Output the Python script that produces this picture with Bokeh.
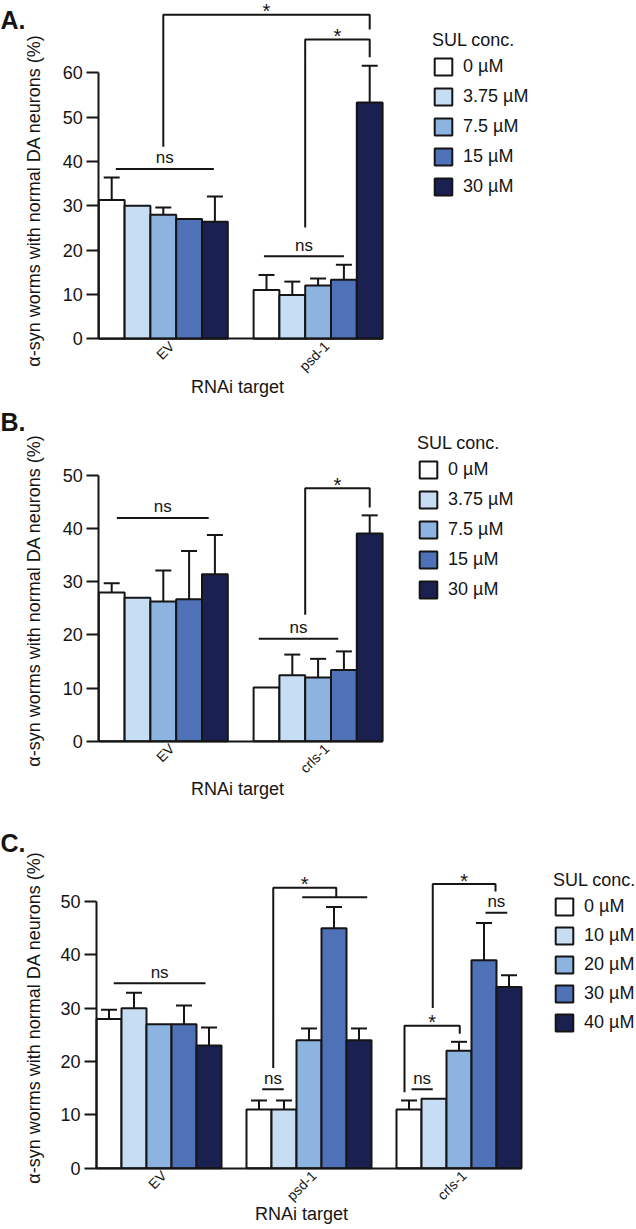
import math
from bokeh.plotting import figure
from bokeh.models import (ColumnDataSource, Range1d, FixedTicker, Legend, LegendItem,
                          Whisker, TeeHead)
from bokeh.layouts import column
from bokeh.embed import file_html
from bokeh.resources import INLINE
from bokeh.core.properties import value

FONT = "Liberation Sans"
INK = "#151515"
COLORS = ["#ffffff", "#c6ddf3", "#8db3e0", "#4e71b8", "#1a2150"]
BASE_FIX = 0.42   # measured baseline correction of the svg text, in em

# ---------------- data ----------------
A_targets = ["EV", "psd-1"]
A_conc = ["0 µM", "3.75 µM", "7.5 µM", "15 µM", "30 µM"]
A_mean = [[31.3, 30.0, 28.0, 27.0, 26.4],
          [11.0, 9.9, 12.0, 13.3, 53.3]]
A_sem = [[5.1, 0.0, 1.6, 0.0, 5.7],
         [3.4, 3.0, 1.6, 3.4, 8.3]]

B_targets = ["EV", "crls-1"]
B_conc = ["0 µM", "3.75 µM", "7.5 µM", "15 µM", "30 µM"]
B_mean = [[28.0, 27.0, 26.3, 26.7, 31.4],
          [10.1, 12.4, 12.0, 13.4, 39.1]]
B_sem = [[1.7, 0.0, 5.8, 9.1, 7.4],
         [0.0, 3.9, 3.5, 3.5, 3.4]]

C_targets = ["EV", "psd-1", "crls-1"]
C_conc = ["0 µM", "10 µM", "20 µM", "30 µM", "40 µM"]
C_mean = [[28.0, 30.0, 27.0, 27.0, 23.0],
          [11.0, 11.0, 24.0, 45.0, 24.0],
          [11.0, 13.0, 22.0, 39.0, 34.0]]
C_sem = [[1.7, 2.9, 0.0, 3.5, 3.4],
         [1.7, 1.7, 2.2, 4.0, 2.2],
         [1.7, 0.0, 1.7, 7.0, 2.2]]

# significance marks: ns lines (x0, x1, y); brackets (xl, yl, xr, yr, ytop) labelled "*"
A_ns = [(0.66, 4.46, 38.3), (6.4, 9.5, 18.6)]
A_star = [(2.5, 43.3, 10.5, 69.8, 73.1), (8.0, 25.1, 10.5, 63.5, 67.5)]
A_plain = []
B_ns = [(0.7, 4.26, 42.0), (6.2, 9.28, 19.3)]
B_star = [(8.0, 23.8, 10.5, 44.0, 47.6)]
B_plain = []
C_ns = [(0.69, 4.36, 34.7), (6.63, 7.49, 14.8), (12.6, 13.45, 14.8), (15.56, 16.43, 47.9)]
C_star = [(7.07, 18.8, 9.59, 50.8, 52.6), (12.32, 14.25, 14.53, 25.2, 26.7),
          (13.45, 30.06, 15.96, 51.9, 53.3)]
C_plain = [(8.23, 10.83, 50.8)]

YLABEL = "α-syn worms with normal DA neurons (%)"
XLABEL = "RNAi target"
LEGEND_TITLE = "SUL conc."


def panel(letter, targets, conc, means, sems, ns_lines, stars, plain, ymax, cfg):
    n = len(conc)
    gap = 1
    W, H = 636, cfg["h"]
    ax_x, y0 = cfg["axis_x"], cfg["y0"]          # pixel position of the axes corner
    u, ppv = cfg["unit"], cfg["ppv"]             # px per bar, px per percent
    p = figure(frame_width=W, frame_height=H,
               min_border_left=0, min_border_right=0, min_border_top=0, min_border_bottom=0,
               x_range=Range1d(-ax_x / u, (W - ax_x) / u),
               y_range=Range1d(-(H - y0) / ppv, y0 / ppv),
               output_backend="svg", toolbar_location=None,
               background_fill_color="white", border_fill_color="white")
    p.outline_line_color = None
    p.xgrid.visible = False
    p.ygrid.visible = False

    items = []
    for i in range(n):
        xs = [g * (n + gap) + i + 0.5 for g in range(len(targets))]
        tops = [means[g][i] for g in range(len(targets))]
        r = p.vbar(x=xs, top=tops, bottom=0, width=1, fill_color=COLORS[i],
                   line_color=INK, line_width=2)
        items.append(LegendItem(label=conc[i], renderers=[r]))

    base, lower, upper = [], [], []
    for g in range(len(targets)):
        for i in range(n):
            if sems[g][i] > 0:
                base.append(g * (n + gap) + i + 0.5)
                lower.append(means[g][i])
                upper.append(means[g][i] + sems[g][i])
    wsrc = ColumnDataSource(dict(base=base, lower=lower, upper=upper))
    p.add_layout(Whisker(source=wsrc, base="base", lower="lower", upper="upper",
                         dimension="height", line_color=INK, line_width=2,
                         upper_head=TeeHead(size=16, line_color=INK, line_width=2),
                         lower_head=None, level="glyph"))

    # significance lines
    lx, ly = [], []
    for x0, x1, y in ns_lines + plain:
        lx.append([x0, x1]); ly.append([y, y])
    for xl, yl, xr, yr, yt in stars:
        lx.append([xl, xl, xr, xr]); ly.append([yl, yt, yt, yr])
    p.multi_line(xs=lx, ys=ly, line_color=INK, line_width=2)
    p.text(x=[(a + b) / 2 for a, b, _ in ns_lines], y=[y for _, _, y in ns_lines],
           text=["ns"] * len(ns_lines), text_font=value(FONT), text_font_size="17px",
           text_align="center", text_baseline="alphabetic",
           y_offset=-4 - BASE_FIX * 17, text_color=INK)
    p.text(x=[(s[0] + s[2]) / 2 for s in stars], y=[s[4] for s in stars],
           text=["*"] * len(stars), text_font=value(FONT), text_font_size="20px",
           text_align="center", text_baseline="alphabetic",
           y_offset=5 - BASE_FIX * 20, text_color=INK)

    # axes (library axes pinned at the data origin)
    ya = p.yaxis[0]
    xa = p.xaxis[0]
    ya.fixed_location = 0
    xa.fixed_location = 0
    ya.ticker = FixedTicker(ticks=list(range(0, ymax + 1, 10)))
    ya.bounds = (0, ymax)
    for ax in (xa, ya):
        ax.axis_line_color = INK
        ax.axis_line_width = 2
        ax.major_tick_line_color = INK
        ax.major_tick_line_width = 2
        ax.minor_tick_line_color = None
        ax.major_tick_in = 0
        ax.major_label_text_font = FONT
        ax.major_label_text_color = INK
    ya.major_tick_out = 12
    ya.major_label_standoff = 4
    ya.major_label_text_font_size = "18px"

    centers = [g * (n + gap) + n / 2 + cfg["tick_shift"] for g in range(len(targets))]
    xa.ticker = FixedTicker(ticks=centers)
    xa.major_label_overrides = {c: t for c, t in zip(centers, targets)}
    xa.major_label_orientation = math.pi / 4
    xa.major_label_text_font_size = "14px"
    xa.major_tick_line_color = None
    xa.major_tick_out = 0
    xa.major_label_standoff = 5
    xa.bounds = (0, len(targets) * (n + gap) - gap)

    # axis titles and panel letter
    ylx, yly = cfg["ylabel_xy"]
    p.text(x=[(ylx - ax_x) / u], y=[(y0 - yly) / ppv], text=[YLABEL], angle=math.pi / 2,
           text_font=value(FONT), text_font_size="18px", text_align="center",
           text_baseline="middle", text_color=INK)
    xlx, xly = cfg["xlabel_xy"]
    p.text(x=[(xlx - ax_x) / u], y=[(y0 - xly) / ppv], text=[XLABEL],
           text_font=value(FONT), text_font_size="18px", text_align="center",
           text_baseline="alphabetic", y_offset=-BASE_FIX * 18, text_color=INK)
    lt_x, lt_y = cfg["letter_xy"]
    p.text(x=[(lt_x - ax_x) / u], y=[(y0 - lt_y) / ppv], text=[letter],
           text_font=value(FONT), text_font_size="25px", text_font_style="bold",
           text_align="left", text_baseline="alphabetic", y_offset=-BASE_FIX * 25,
           text_color=INK)

    leg = Legend(items=items, location=cfg["legend_xy"], title=LEGEND_TITLE,
                 title_text_font=FONT, title_text_font_size="18px",
                 title_text_font_style="normal", title_text_color=INK, title_standoff=5,
                 label_text_font=FONT, label_text_font_size="18px", label_text_color=INK,
                 glyph_width=22, glyph_height=21, label_height=21,
                 spacing=cfg["legend_spacing"], padding=0, margin=0, label_standoff=9,
                 border_line_color=None, background_fill_alpha=0)
    p.add_layout(leg)
    return p


cfgA = dict(h=400, axis_x=98.3, y0=338.3, unit=25.8, ppv=4.433, tick_shift=0.33,
            ylabel_xy=(33, 200), xlabel_xy=(237, 394), letter_xy=(0, 30),
            legend_xy=(432, 203), legend_spacing=9)
cfgB = dict(h=400, axis_x=98.3, y0=340.7, unit=25.8, ppv=5.314, tick_shift=0.33,
            ylabel_xy=(33, 200), xlabel_xy=(237, 396), letter_xy=(0, 32),
            legend_xy=(417, 200), legend_spacing=9)
cfgC = dict(h=428, axis_x=96.0, y0=367.7, unit=25.0, ppv=5.333, tick_shift=0.2,
            ylabel_xy=(33, 217), xlabel_xy=(301, 421), letter_xy=(0, 53),
            legend_xy=(553, 195), legend_spacing=8)

pA = panel("A.", A_targets, A_conc, A_mean, A_sem, A_ns, A_star, A_plain, 60, cfgA)
pB = panel("B.", B_targets, B_conc, B_mean, B_sem, B_ns, B_star, B_plain, 50, cfgB)
pC = panel("C.", C_targets, C_conc, C_mean, C_sem, C_ns, C_star, C_plain, 50, cfgC)

layout = column(pA, pB, pC, spacing=0)
open("out.html", "w").write(file_html(layout, INLINE))
